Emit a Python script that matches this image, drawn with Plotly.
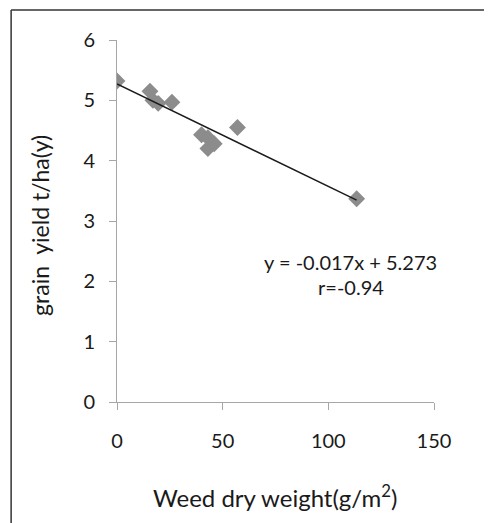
import plotly.graph_objects as go

weed = [0, 15.6, 17, 19.5, 26, 40, 43, 43, 46, 57, 113.4]
yield_t = [5.32, 5.15, 5.0, 4.95, 4.97, 4.43, 4.38, 4.2, 4.28, 4.55, 3.37]
slope = -0.017
intercept = 5.273
x_ticks = [0, 50, 100, 150]
y_ticks = [0, 1, 2, 3, 4, 5, 6]

fit_x = [min(weed), max(weed)]
fit_y = [slope * v + intercept for v in fit_x]

font = "Lato, Open Sans, sans-serif"
txt = "#1a1a1a"
fig = go.Figure()
fig.add_trace(go.Scatter(x=weed, y=yield_t, mode="markers",
                         marker=dict(symbol="diamond", size=13, color="#8c8c8c"),
                         showlegend=False))
fig.add_trace(go.Scatter(x=fit_x, y=fit_y, mode="lines",
                         line=dict(color="#1a1a1a", width=1.5), showlegend=False))

fig.update_layout(
    width=484, height=515,
    margin=dict(l=109, r=58, t=32, b=121),
    paper_bgcolor="white", plot_bgcolor="white",
    font=dict(family=font, size=20, color=txt),
    xaxis=dict(range=[0, 150], tickvals=x_ticks, showgrid=False, zeroline=False,
               showline=True, linecolor="#a6a6a6", linewidth=1,
               ticks="outside", ticklen=7, tickcolor="#a6a6a6",
               ticklabelstandoff=14, tickfont=dict(size=20, color=txt)),
    yaxis=dict(range=[0, 6], tickvals=y_ticks, showgrid=False, zeroline=False,
               showline=True, linecolor="#a6a6a6", linewidth=1,
               ticks="outside", ticklen=7, tickcolor="#a6a6a6",
               ticklabelstandoff=10, tickfont=dict(size=20, color=txt)),
    annotations=[
        dict(x=110.7, y=2.32, xref="x", yref="y", showarrow=False,
             xanchor="center", yanchor="middle",
             text="y = -0.017x + 5.273", font=dict(size=20)),
        dict(x=110.5, y=1.91, xref="x", yref="y", showarrow=False,
             xanchor="center", yanchor="middle",
             text="r=-0.94", font=dict(size=20)),
        dict(x=-0.243, y=0.489, xref="paper", yref="paper", showarrow=False,
             xanchor="center", yanchor="middle", textangle=-90,
             text="grain  yield t/ha(y)", font=dict(size=23)),
        dict(x=0.498, y=-0.26, xref="paper", yref="paper", showarrow=False,
             xanchor="center", yanchor="middle",
             text="Weed dry weight(g/m<sup>2</sup>)", font=dict(size=24)),
    ],
    shapes=[
        dict(type="line", xref="paper", yref="paper", x0=-0.334, x1=1.3,
             y0=1.083, y1=1.083, line=dict(color="#333333", width=1.5)),
        dict(type="line", xref="paper", yref="paper", x0=-0.334, x1=-0.334,
             y0=1.083, y1=-0.4, line=dict(color="#333333", width=1.5)),
    ],
)
fig.write_html("out.html")
